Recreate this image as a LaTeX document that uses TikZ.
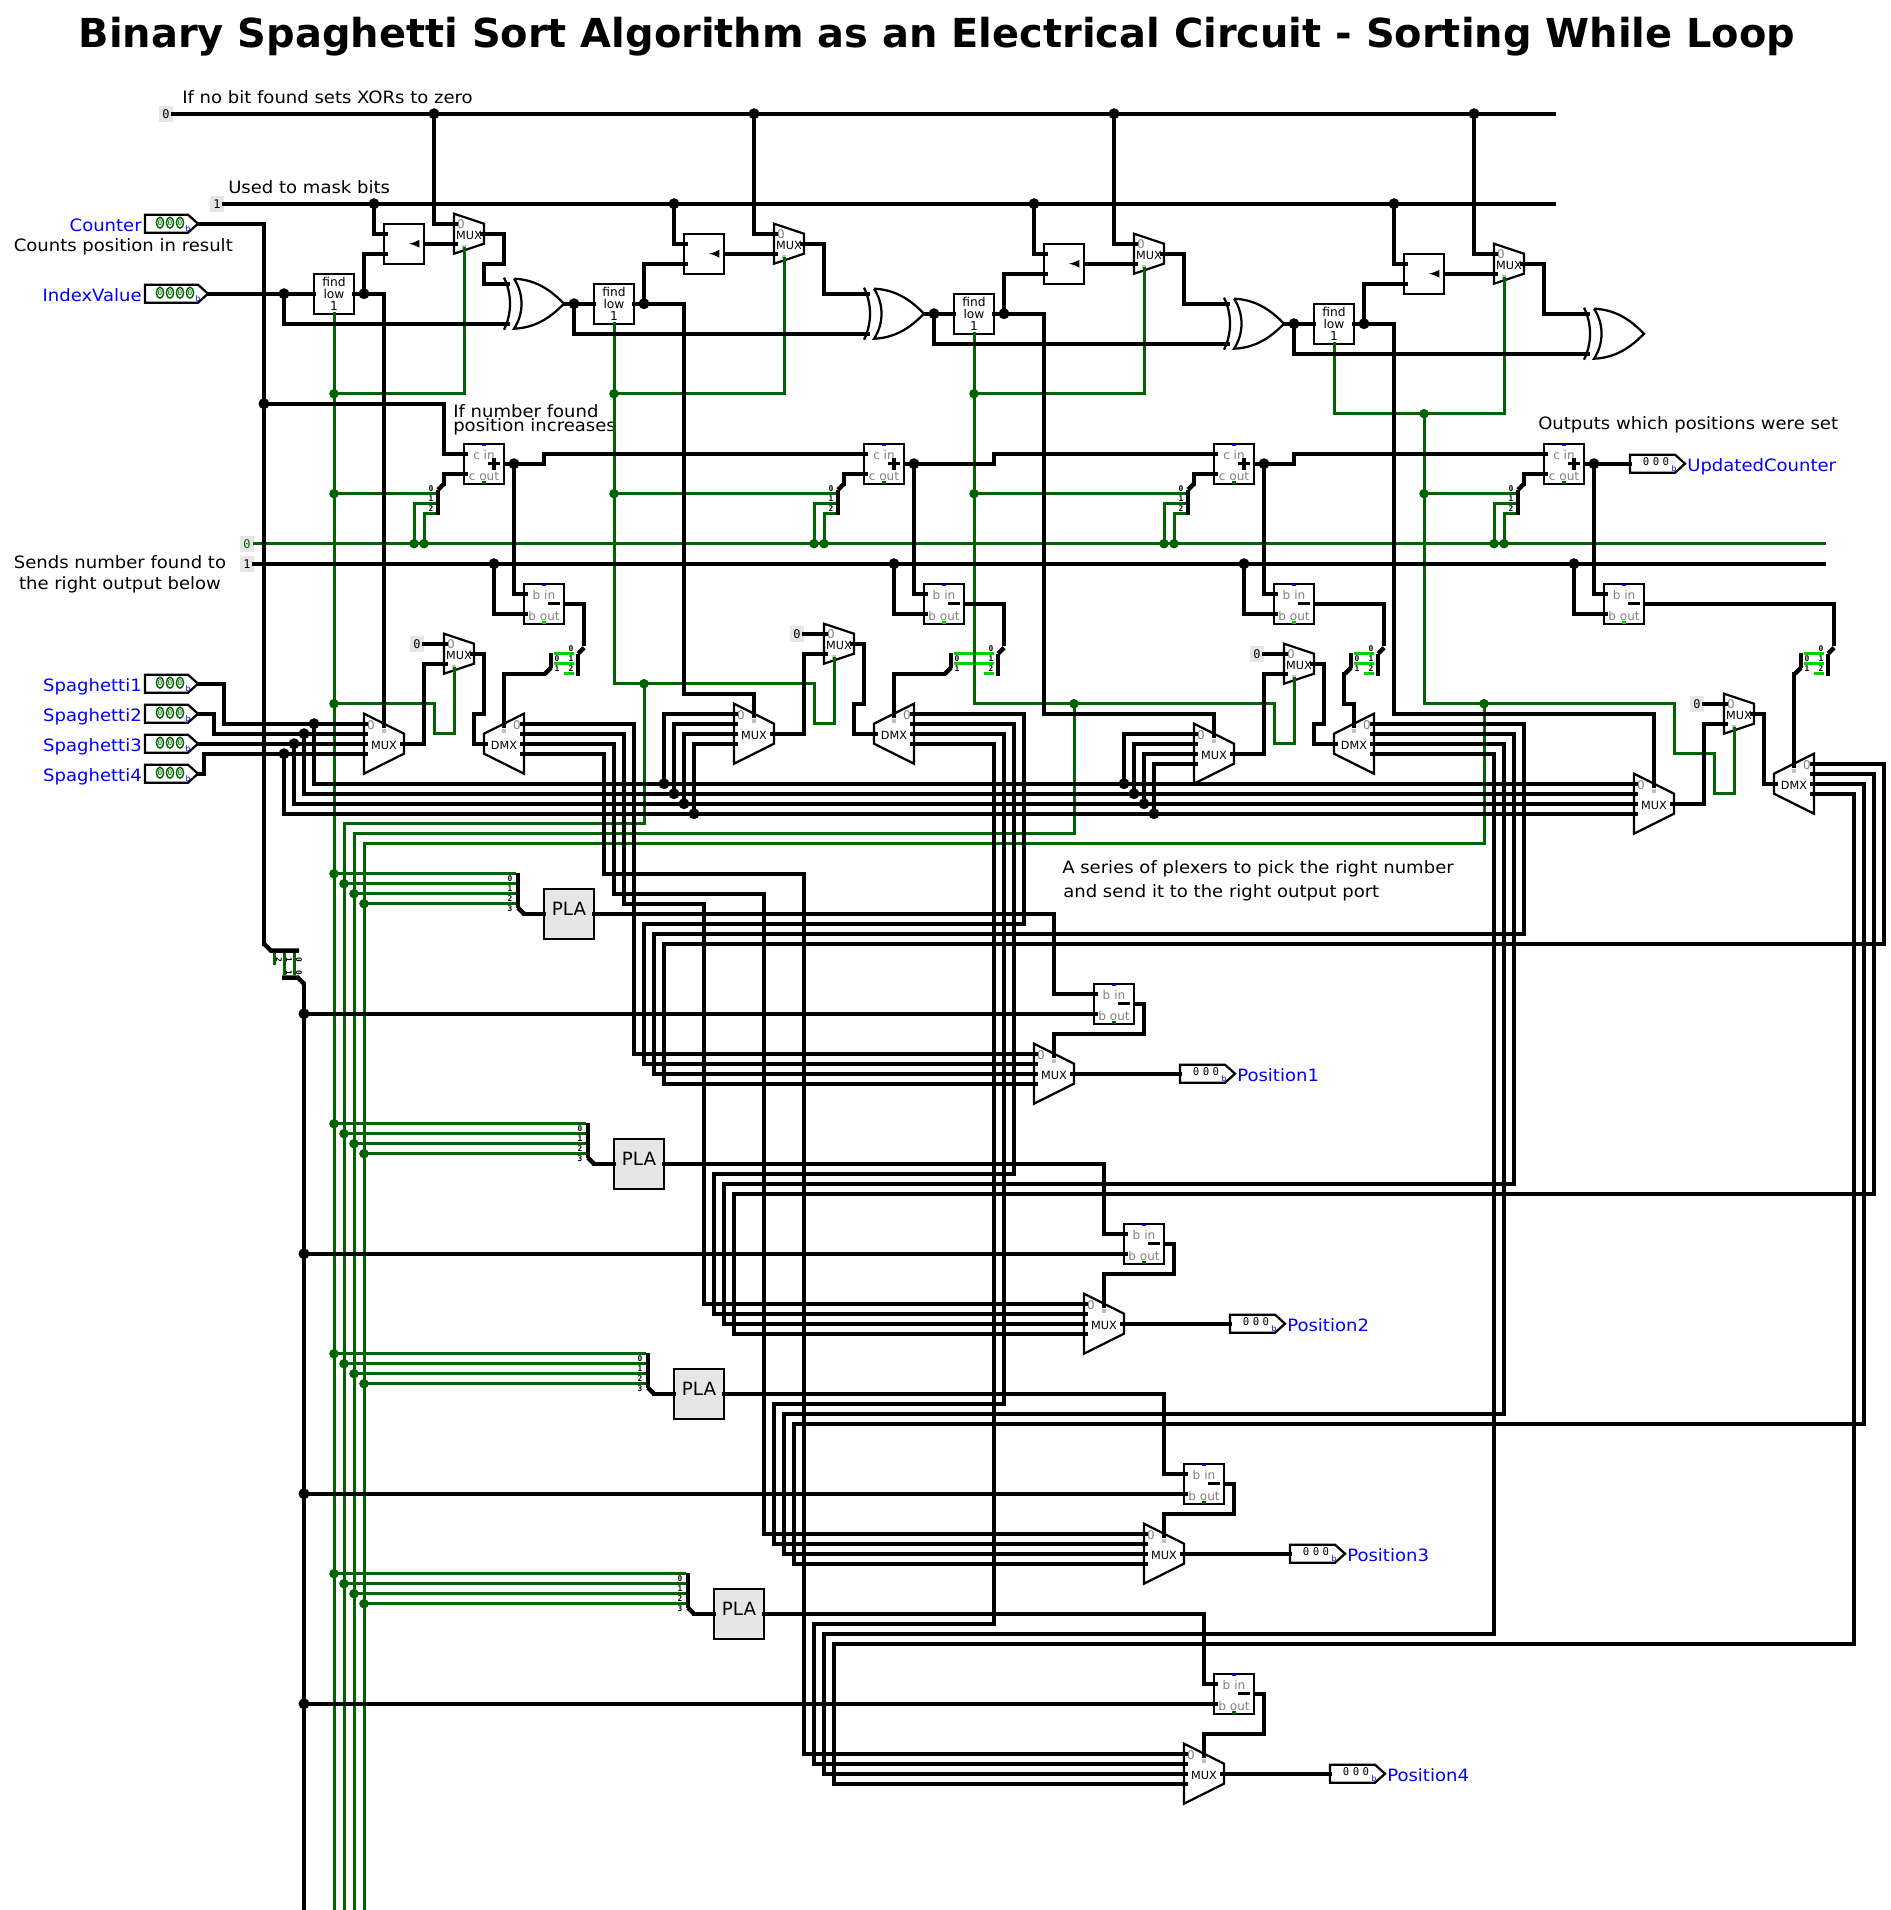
\documentclass[tikz,border=0pt]{standalone}
\usepackage{fontspec}
\setmainfont{DejaVu Sans}
\setmonofont{DejaVu Sans Mono}
\newfontfamily\widefont[FakeStretch=1.06]{DejaVu Sans}
\usepackage[rgb]{xcolor}
\usepackage{tikz}

\definecolor{wiregreen}{RGB}{0,100,0}
\definecolor{litgreen}{RGB}{0,210,0}
\definecolor{pinblue}{RGB}{0,0,255}
\definecolor{partgray}{RGB}{128,128,128}
\definecolor{markgray}{RGB}{192,192,192}
\definecolor{boxgray}{RGB}{230,230,230}

\tikzset{
  wire/.style={line width=2.85pt,black,line cap=rect},
  greenwire/.style={line width=2.13pt,wiregreen,line cap=rect},
  litwire/.style={line width=2.13pt,litgreen},
  bar/.style={line width=3.2pt,black},
  partline/.style={line width=1.6pt,black,line join=miter},
  ringline/.style={line width=1pt,wiregreen},
  partlabel/.style={inner sep=0,font=\fontsize{8}{9}\selectfont},
  partzero/.style={inner sep=0,text=partgray,font=\fontsize{8.5}{9}\selectfont},
  selmark/.style={inner sep=0,minimum size=3pt,fill=markgray},
  findbox/.style={draw,line width=1.6pt,fill=white,inner sep=0,outer sep=0,minimum size=1cm,align=center,font=\fontsize{8.7}{8.6}\selectfont},
  shiftbox/.style={draw,line width=1.6pt,fill=white,inner sep=0,outer sep=0,minimum size=1cm},
  arithbox/.style={draw,line width=1.6pt,fill=white,inner sep=0,outer sep=0,minimum size=1cm},
  arithtext/.style={inner sep=0,text=partgray,font=\fontsize{8.6}{9}\selectfont},
  plabox/.style={draw,line width=1.6pt,fill=boxgray,inner sep=0,outer sep=0,minimum size=1.25cm,font=\fontsize{13}{13}\selectfont},
  constpin/.style={fill=boxgray,inner sep=0,outer sep=0,minimum width=0.35cm,minimum height=0.4cm,font=\ttfamily\fontsize{8.5}{8.5}\selectfont},
  bitlabel/.style={inner sep=0,font=\ttfamily\bfseries\fontsize{5.6}{6}\selectfont},
  pinname/.style={inner sep=0,text=pinblue,font=\widefont\fontsize{12.1}{12.4}\selectfont,text height=1.5ex,text depth=.25ex},
  note/.style={inner sep=0,font=\widefont\fontsize{12.1}{12}\selectfont,text height=1.5ex,text depth=.25ex},
  blackdot/.style={circle,fill=black,inner sep=0,minimum size=7.8pt},
  greendot/.style={circle,fill=wiregreen,inner sep=0,minimum size=6.8pt},
}

%% big plexers: name, left x, middle y
\newcommand{\bigmux}[3]{
  \draw[partline,fill=white] (#2,#3-3) -- (#2+4,#3-1) -- (#2+4,#3+1) -- (#2,#3+3) -- cycle;
  \node[partlabel] (#1) at (#2+2,#3+.2) {MUX};
  \node[partzero] (#1-zero) at (#2+.7,#3-1.9) {0};
  \node[selmark] (#1-mark) at (#2+2,#3-1.3) {};
  \coordinate (#1-a) at (#2+.2,#3-2);
  \coordinate (#1-b) at (#2+.2,#3-1);
  \coordinate (#1-c) at (#2+.2,#3);
  \coordinate (#1-d) at (#2+.2,#3+1);
  \coordinate (#1-out) at (#2+3.8,#3);
  \coordinate (#1-sel) at (#2+2,#3-1.8);
}
\newcommand{\bigdmx}[3]{
  \draw[partline,fill=white] (#2+4,#3-3) -- (#2,#3-1) -- (#2,#3+1) -- (#2+4,#3+3) -- cycle;
  \node[partlabel] (#1) at (#2+2,#3+.2) {DMX};
  \node[partzero] (#1-zero) at (#2+3.3,#3-1.9) {0};
  \node[selmark] (#1-mark) at (#2+2,#3-1.3) {};
  \coordinate (#1-a) at (#2+3.8,#3-2);
  \coordinate (#1-b) at (#2+3.8,#3-1);
  \coordinate (#1-c) at (#2+3.8,#3);
  \coordinate (#1-d) at (#2+3.8,#3+1);
  \coordinate (#1-in) at (#2+.2,#3);
  \coordinate (#1-sel) at (#2+2,#3-1.8);
}
\newcommand{\smallmux}[3]{
  \draw[partline,fill=white] (#2,#3-2) -- (#2+3,#3-1) -- (#2+3,#3+1) -- (#2,#3+2) -- cycle;
  \node[partlabel] (#1) at (#2+1.5,#3+.2) {MUX};
  \node[partzero] (#1-zero) at (#2+.7,#3-1) {0};
  \node[selmark] (#1-mark) at (#2+1,#3+1.3) {};
  \coordinate (#1-a) at (#2+.2,#3-1);
  \coordinate (#1-b) at (#2+.2,#3+1);
  \coordinate (#1-out) at (#2+2.8,#3);
  \coordinate (#1-sel) at (#2+1,#3+1.5);
}
%% shift box: name, middle x, middle y
\newcommand{\shiftpart}[3]{
  \node[shiftbox] (#1) at (#2,#3) {};
  \draw[line width=1.5pt,-latex] (#2+1.5,#3) -- (#2+.5,#3);
  \coordinate (#1-a) at (#2-1.8,#3-1);
  \coordinate (#1-b) at (#2-1.8,#3+1);
  \coordinate (#1-out) at (#2+2.05,#3);
}
%% adder and subtractor: name, x, y, first text, second text, colour of lower dot
\newcommand{\arithpart}[6]{
  \node[arithbox] (#1) at (#2,#3) {};
  \node[arithtext] (#1-top) at (#2,#3-.9) {#4};
  \node[arithtext] (#1-bot) at (#2,#3+1.25) {#5};
  \fill[pinblue] (#2-.2,#3-2) rectangle (#2+.2,#3-1.75);
  \fill[#6] (#2-.2,#3+1.75) rectangle (#2+.2,#3+2);
  \coordinate (#1-a) at (#2-1.8,#3-1);
  \coordinate (#1-b) at (#2-1.8,#3+1);
  \coordinate (#1-out) at (#2+2.05,#3);
}
\newcommand{\adderpart}[3]{
  \arithpart{#1}{#2}{#3}{c in}{c out}{wiregreen}
  \draw[line width=2.4pt] (#2+.4,#3) -- (#2+1.6,#3);
  \draw[line width=2.4pt] (#2+1,#3-.6) -- (#2+1,#3+.6);
}
\newcommand{\subpart}[4]{
  \arithpart{#1}{#2}{#3}{b in}{b out}{#4}
  \draw[line width=2.4pt] (#2+.4,#3) -- (#2+1.6,#3);
}
%% xor gate: name, x of the nose, middle y
\newcommand{\xorpart}[3]{
  \draw[partline] (#2-6,#3-2.6) .. controls (#2-5.2,#3-1) and (#2-5.2,#3+1) .. (#2-6,#3+2.6);
  \draw[partline,fill=white] (#2-5,#3-2.5) .. controls (#2-2.5,#3-2.4) and (#2-1,#3-1) .. (#2,#3)
    .. controls (#2-1,#3+1) and (#2-2.5,#3+2.4) .. (#2-5,#3+2.5)
    .. controls (#2-4,#3+1) and (#2-4,#3-1) .. (#2-5,#3-2.5);
  \coordinate (#1-a) at (#2-5.6,#3-2);
  \coordinate (#1-b) at (#2-5.6,#3+2);
  \coordinate (#1-out) at (#2,#3);
}
%% pins: name, left x, y, label
\newcommand{\bitring}[2]{\draw[ringline] (#1,#2) ellipse (0.36 and 0.55);}
\newcommand{\pinthree}[4]{
  \draw[partline,fill=white] (#2,#3-.9) -- (#2+4.3,#3-.9) -- (#2+5.3,#3) -- (#2+4.3,#3+.9) -- (#2,#3+.9) -- cycle;
  \bitring{#2+1.5}{#3-.1} \bitring{#2+2.5}{#3-.1} \bitring{#2+3.5}{#3-.1}
  \node[inner sep=0,text=wiregreen,font=\ttfamily\fontsize{5.5}{6}\selectfont] (#1-bits) at (#2+2.5,#3-.1) {\makebox[7.11pt]{0}\makebox[7.11pt]{0}\makebox[7.11pt]{0}};
  \node[inner sep=0,text=pinblue,font=\fontsize{5.5}{6}\selectfont] (#1-base) at (#2+4.3,#3+.5) {b};
  \node[pinname,anchor=east] (#1-name) at (#2-.3,#3+.3) {#4};
  \coordinate (#1) at (#2+5.3,#3);
}
\newcommand{\pinfour}[4]{
  \draw[partline,fill=white] (#2,#3-.9) -- (#2+5.3,#3-.9) -- (#2+6.3,#3) -- (#2+5.3,#3+.9) -- (#2,#3+.9) -- cycle;
  \bitring{#2+1.5}{#3-.1} \bitring{#2+2.5}{#3-.1} \bitring{#2+3.5}{#3-.1} \bitring{#2+4.5}{#3-.1}
  \node[inner sep=0,text=wiregreen,font=\ttfamily\fontsize{5.5}{6}\selectfont] (#1-bits) at (#2+3,#3-.1) {\makebox[7.11pt]{0}\makebox[7.11pt]{0}\makebox[7.11pt]{0}\makebox[7.11pt]{0}};
  \node[inner sep=0,text=pinblue,font=\fontsize{5.5}{6}\selectfont] (#1-base) at (#2+5.3,#3+.5) {b};
  \node[pinname,anchor=east] (#1-name) at (#2-.3,#3+.3) {#4};
  \coordinate (#1) at (#2+6.3,#3);
}
\newcommand{\pinout}[4]{
  \draw[partline,fill=white] (#2,#3-.9) -- (#2+4.5,#3-.9) -- (#2+5.5,#3) -- (#2+4.5,#3+.9) -- (#2,#3+.9) -- cycle;
  \node[inner sep=0,font=\ttfamily\fontsize{7.6}{8}\selectfont] (#1-bits) at (#2+2.6,#3-.2) {\makebox[7pt]{0}\makebox[7pt]{0}\makebox[7pt]{0}};
  \node[inner sep=0,text=pinblue,font=\fontsize{5.5}{6}\selectfont] (#1-base) at (#2+4.4,#3+.5) {b};
  \node[pinname,anchor=west] (#1-name) at (#2+5.7,#3+.3) {#4};
  \coordinate (#1) at (#2,#3);
}
%% splitters
\newcommand{\splitthree}[3]{
  \draw[bar] (#2+.4,#3-.4) -- (#2+.4,#3+2.1);
  \draw[bar] (#2+.4,#3-.4) -- (#2+1,#3-1);
  \node[bitlabel] (#1-l0) at (#2-.3,#3-.5) {0};
  \node[bitlabel] (#1-l1) at (#2-.3,#3+.5) {1};
  \node[bitlabel] (#1-l2) at (#2-.3,#3+1.5) {2};
  \coordinate (#1-in) at (#2+1,#3-1);
  \coordinate (#1-a) at (#2,#3);
  \coordinate (#1-b) at (#2,#3+1);
  \coordinate (#1-c) at (#2,#3+2);
}
\newcommand{\splitfour}[3]{
  \draw[bar] (#2+.4,#3-.1) -- (#2+.4,#3+3.4);
  \draw[bar] (#2+.4,#3+3.4) -- (#2+1,#3+4);
  \node[bitlabel] (#1-l0) at (#2-.4,#3+.5) {0};
  \node[bitlabel] (#1-l1) at (#2-.4,#3+1.5) {1};
  \node[bitlabel] (#1-l2) at (#2-.4,#3+2.5) {2};
  \node[bitlabel] (#1-l3) at (#2-.4,#3+3.5) {3};
  \coordinate (#1-a) at (#2,#3);
  \coordinate (#1-b) at (#2,#3+1);
  \coordinate (#1-c) at (#2,#3+2);
  \coordinate (#1-d) at (#2,#3+3);
  \coordinate (#1-out) at (#2+1,#3+4);
}
\newcommand{\splitpair}[3]{
  \draw[litwire] (#2,65) -- (#3,65);
  \draw[litwire] (#2,66) -- (#3,66);
  \draw[litwire] (#3-1,67) -- (#3,67);
  \draw[bar] (#3+.4,65) -- (#3+.4,67.2);
  \draw[bar] (#3+.4,65) -- (#3+1,64.4);
  \draw[bar] (#2-.3,64.9) -- (#2-.3,66.4);
  \draw[bar] (#2-.3,66.4) -- (#2-.9,67);
  \node[bitlabel] (#1-l0) at (#3-.3,64.5) {0};
  \node[bitlabel] (#1-l1) at (#3-.3,65.5) {1};
  \node[bitlabel] (#1-l2) at (#3-.3,66.5) {2};
  \node[bitlabel] (#1-r0) at (#2+.3,65.5) {0};
  \node[bitlabel] (#1-r1) at (#2+.3,66.5) {1};
  \coordinate (#1-in) at (#3+1,64);
  \coordinate (#1-out) at (#2-1,67);
}

\begin{document}
\begin{tikzpicture}[x=0.25cm,y=-0.25cm]
\useasboundingbox (-0.4,-0.37) rectangle (188.6,190.63);

\node[inner sep=0,font=\bfseries\fontsize{28.4}{29}\selectfont] (title) at (93.3,3.25) {Binary Spaghetti Sort Algorithm as an Electrical Circuit - Sorting While Loop};

%% texts beside the wires
\path
(17.8,9.5) node[note,anchor=west] (notezero) {If no bit found sets XORs to zero}
(22.4,18.5) node[note,anchor=west] (notemask) {Used to mask bits}
(0.95,24.3) node[note,anchor=west] (notecount) {Counts position in result}
(44.9,40.9) node[note,anchor=west] (notefound) {If number found}
(44.9,42.3) node[note,anchor=west] (noteraise) {position increases}
(11.6,56) node[note] (notesendA) {Sends number found to}
(11.6,58.1) node[note] (notesendB) {the right output below}
(153.4,42.1) node[note,anchor=west] (noteset) {Outputs which positions were set}
(105.8,86.5) node[note,anchor=west] (noteplexA) {A series of plexers to pick the right number}
(105.9,88.9) node[note,anchor=west] (noteplexB) {and send it to the right output port};

%% pins
\pinthree{cntpin}{14.1}{22}{Counter}
\pinfour{idxpin}{14.1}{29}{IndexValue}
\pinthree{spapin}{14.1}{68}{Spaghetti1}
\pinthree{spbpin}{14.1}{71}{Spaghetti2}
\pinthree{spcpin}{14.1}{74}{Spaghetti3}
\pinthree{spdpin}{14.1}{77}{Spaghetti4}
\pinout{updpin}{162.6}{46}{UpdatedCounter}
\pinout{posapin}{117.6}{107}{Position1}
\pinout{posbpin}{122.6}{132}{Position2}
\pinout{poscpin}{128.6}{155}{Position3}
\pinout{posdpin}{132.6}{177}{Position4}

%% constants
\path
(16.9,11) node[constpin,anchor=east] (zeropin) {0}
(22,20) node[constpin,anchor=east] (onepin) {1}
(25,54) node[constpin,anchor=east,text=wiregreen] (gzeropin) {0}
(25,56) node[constpin,anchor=east] (bonepin) {1}
(42,64) node[constpin,anchor=east] (smazero) {0}
(80,63) node[constpin,anchor=east] (smbzero) {0}
(126,65) node[constpin,anchor=east] (smczero) {0}
(170,70) node[constpin,anchor=east] (smdzero) {0};
\coordinate (zeroend) at (155,11);
\coordinate (oneend) at (155,20);
\coordinate (gzeroend) at (182,54);
\coordinate (boneend) at (182,56);

%% the four rounds of the loop
\path
(33,29) node[findbox] (find1) {find\\low\\1}
(61,30) node[findbox] (find2) {find\\low\\1}
(97,31) node[findbox] (find3) {find\\low\\1}
(133,32) node[findbox] (find4) {find\\low\\1};
\shiftpart{sha}{40}{24}
\shiftpart{shb}{70}{25}
\shiftpart{shc}{106}{26}
\shiftpart{shd}{142}{27}
\smallmux{topa}{45}{23}
\smallmux{topb}{77}{24}
\smallmux{topc}{113}{25}
\smallmux{topd}{149}{26}
\xorpart{xora}{56}{30}
\xorpart{xorb}{92}{31}
\xorpart{xorc}{128}{32}
\xorpart{xord}{164}{33}
\adderpart{adda}{48}{46}
\adderpart{addb}{88}{46}
\adderpart{addc}{123}{46}
\adderpart{addd}{156}{46}
\subpart{suba}{54}{60}{litgreen}
\subpart{subb}{94}{60}{litgreen}
\subpart{subc}{129}{60}{litgreen}
\subpart{subd}{162}{60}{litgreen}
\splitthree{spla}{43}{49}
\splitthree{splb}{83}{49}
\splitthree{splc}{118}{49}
\splitthree{spld}{151}{49}
\splitpair{paira}{55}{57}
\splitpair{pairb}{95}{99}
\splitpair{pairc}{135}{137}
\splitpair{paird}{180}{182}
\bigmux{mma}{36}{74}
\bigmux{mmb}{73}{73}
\bigmux{mmc}{119}{75}
\bigmux{mmd}{163}{80}
\smallmux{sma}{44}{65}
\smallmux{smb}{82}{64}
\smallmux{smc}{128}{66}
\smallmux{smd}{172}{71}
\bigdmx{dma}{48}{74}
\bigdmx{dmb}{87}{73}
\bigdmx{dmc}{133}{74}
\bigdmx{dmd}{177}{78}

%% the four outputs
\path
(56.5,91) node[plabox] (plaa) {\raisebox{7pt}{PLA}}
(63.5,116) node[plabox] (plab) {\raisebox{7pt}{PLA}}
(69.5,139) node[plabox] (plac) {\raisebox{7pt}{PLA}}
(73.5,161) node[plabox] (plad) {\raisebox{7pt}{PLA}};
\splitfour{sqa}{51}{87}
\splitfour{sqb}{58}{112}
\splitfour{sqc}{64}{135}
\splitfour{sqd}{68}{157}
\subpart{posa}{111}{100}{wiregreen}
\subpart{posb}{114}{124}{wiregreen}
\subpart{posc}{120}{148}{wiregreen}
\subpart{posd}{123}{169}{wiregreen}
\bigmux{mpa}{103}{107}
\bigmux{mpb}{108}{132}
\bigmux{mpc}{114}{155}
\bigmux{mpd}{118}{177}

%% splitter under the counter
\draw[greenwire] (27,95) -- (27,96);
\draw[greenwire] (28,95) -- (28,97);
\draw[greenwire] (29,95) -- (29,97);
\draw[bar] (26,94) -- (26.7,94.7) -- (29.5,94.7);
\draw[bar] (27.8,97.4) -- (29.4,97.4) -- (30,98);
\path
(27.5,95.6) node[bitlabel,rotate=-90] (cntbit2) {2}
(28.5,95.6) node[bitlabel,rotate=-90] (cntbit1) {1}
(29.5,95.6) node[bitlabel,rotate=-90] (cntbit0) {0}
(28.5,96.9) node[bitlabel,rotate=-90] (lowbit1) {1}
(29.5,96.9) node[bitlabel,rotate=-90] (lowbit0) {0};
\coordinate (cntin) at (26,94);
\coordinate (cntout) at (30,98);

%% free ends at the foot of the page
\coordinate (footk) at (30,190.63);
\coordinate (foota) at (33,190.63);
\coordinate (footb) at (34,190.63);
\coordinate (footc) at (35,190.63);
\coordinate (footd) at (36,190.63);

%% green junctions
\path
(33,39) node[greendot] (gfa1) {} (33,49) node[greendot] (gfa2) {} (33,70) node[greendot] (gfa3) {}
(61,39) node[greendot] (gfb1) {} (61,49) node[greendot] (gfb2) {} (64,68) node[greendot] (gfb3) {}
(97,39) node[greendot] (gfc1) {} (97,49) node[greendot] (gfc2) {} (107,70) node[greendot] (gfc3) {}
(142,41) node[greendot] (gfd1) {} (142,49) node[greendot] (gfd2) {} (148,70) node[greendot] (gfd3) {}
(41,54) node[greendot] (gza1) {} (42,54) node[greendot] (gza2) {}
(81,54) node[greendot] (gzb1) {} (82,54) node[greendot] (gzb2) {}
(116,54) node[greendot] (gzc1) {} (117,54) node[greendot] (gzc2) {}
(149,54) node[greendot] (gzd1) {} (150,54) node[greendot] (gzd2) {}
(33,87) node[greendot] (qa1) {} (34,88) node[greendot] (qa2) {} (35,89) node[greendot] (qa3) {} (36,90) node[greendot] (qa4) {}
(33,112) node[greendot] (qb1) {} (34,113) node[greendot] (qb2) {} (35,114) node[greendot] (qb3) {} (36,115) node[greendot] (qb4) {}
(33,135) node[greendot] (qc1) {} (34,136) node[greendot] (qc2) {} (35,137) node[greendot] (qc3) {} (36,138) node[greendot] (qc4) {}
(33,157) node[greendot] (qd1) {} (34,158) node[greendot] (qd2) {} (35,159) node[greendot] (qd3) {} (36,160) node[greendot] (qd4) {};

%% black junctions
\path
(43,11) node[blackdot] (zta) {} (75,11) node[blackdot] (ztb) {} (111,11) node[blackdot] (ztc) {} (147,11) node[blackdot] (ztd) {}
(37,20) node[blackdot] (ota) {} (67,20) node[blackdot] (otb) {} (103,20) node[blackdot] (otc) {} (139,20) node[blackdot] (otd) {}
(28,29) node[blackdot] (xia) {} (57,30) node[blackdot] (xib) {} (93,31) node[blackdot] (xic) {} (129,32) node[blackdot] (xid) {}
(36,29) node[blackdot] (foa) {} (64,30) node[blackdot] (fob) {} (100,31) node[blackdot] (foc) {} (136,32) node[blackdot] (fod) {}
(26,40) node[blackdot] (cnt) {}
(51,46) node[blackdot] (ada) {} (91,46) node[blackdot] (adb) {} (126,46) node[blackdot] (adc) {} (159,46) node[blackdot] (add) {}
(49,56) node[blackdot] (sua) {} (89,56) node[blackdot] (sub) {} (124,56) node[blackdot] (suc) {} (157,56) node[blackdot] (sud) {}
(31,72) node[blackdot] (spa) {} (30,73) node[blackdot] (spb) {} (29,74) node[blackdot] (spc) {} (28,75) node[blackdot] (spd) {}
(66,78) node[blackdot] (baa) {} (67,79) node[blackdot] (bab) {} (68,80) node[blackdot] (bac) {} (69,81) node[blackdot] (bad) {}
(112,78) node[blackdot] (bba) {} (113,79) node[blackdot] (bbb) {} (114,80) node[blackdot] (bbc) {} (115,81) node[blackdot] (bbd) {}
(30,101) node[blackdot] (cba) {} (30,125) node[blackdot] (cbb) {} (30,149) node[blackdot] (cbc) {} (30,170) node[blackdot] (cbd) {};

%% green wires
\draw[greenwire] (gzeropin.east) -- (gzeroend);
\draw[greenwire] (find1.south) -- (foota);
\draw[greenwire] (gfa1) -| (topa-sel);
\draw[greenwire] (gfa2) -- (spla-a);
\draw[greenwire] (gza1) |- (spla-b);
\draw[greenwire] (gza2) |- (spla-c);
\draw[greenwire] (gfa3) -- (43,70) -- (43,73) -- (45,73) -- (sma-sel);

\draw[greenwire] (find2.south) -- (61,68) -- (81,68) -- (81,72) -- (83,72) -- (smb-sel);
\draw[greenwire] (gfb1) -| (topb-sel);
\draw[greenwire] (gfb2) -- (splb-a);
\draw[greenwire] (gzb1) |- (splb-b);
\draw[greenwire] (gzb2) |- (splb-c);
\draw[greenwire] (gfb3) -- (64,82) -- (34,82) -- (footb);

\draw[greenwire] (find3.south) -- (97,70) -- (127,70) -- (127,74) -- (129,74) -- (smc-sel);
\draw[greenwire] (gfc1) -| (topc-sel);
\draw[greenwire] (gfc2) -- (splc-a);
\draw[greenwire] (gzc1) |- (splc-b);
\draw[greenwire] (gzc2) |- (splc-c);
\draw[greenwire] (gfc3) -- (107,83) -- (35,83) -- (footc);

\draw[greenwire] (find4.south) |- (gfd1);
\draw[greenwire] (gfd1) -| (topd-sel);
\draw[greenwire] (gfd1) -- (142,70) -- (167,70) -- (167,75) -- (171,75) -- (171,79) -- (173,79) -- (smd-sel);
\draw[greenwire] (gfd2) -- (spld-a);
\draw[greenwire] (gzd1) |- (spld-b);
\draw[greenwire] (gzd2) |- (spld-c);
\draw[greenwire] (gfd3) -- (148,84) -- (36,84) -- (footd);

\draw[greenwire] (qa1) -- (sqa-a);
\draw[greenwire] (qa2) -- (sqa-b);
\draw[greenwire] (qa3) -- (sqa-c);
\draw[greenwire] (qa4) -- (sqa-d);
\draw[greenwire] (qb1) -- (sqb-a);
\draw[greenwire] (qb2) -- (sqb-b);
\draw[greenwire] (qb3) -- (sqb-c);
\draw[greenwire] (qb4) -- (sqb-d);
\draw[greenwire] (qc1) -- (sqc-a);
\draw[greenwire] (qc2) -- (sqc-b);
\draw[greenwire] (qc3) -- (sqc-c);
\draw[greenwire] (qc4) -- (sqc-d);
\draw[greenwire] (qd1) -- (sqd-a);
\draw[greenwire] (qd2) -- (sqd-b);
\draw[greenwire] (qd3) -- (sqd-c);
\draw[greenwire] (qd4) -- (sqd-d);

%% constant lines
\draw[wire] (zeropin.east) -- (zeroend);
\draw[wire] (onepin.east) -- (oneend);
\draw[wire] (bonepin.east) -- (boneend);
\draw[wire] (smazero.east) -- (sma-a);
\draw[wire] (smbzero.east) -- (smb-a);
\draw[wire] (smczero.east) -- (smc-a);
\draw[wire] (smdzero.east) -- (smd-a);

%% top row
\draw[wire] (zta) |- (topa-a);
\draw[wire] (ztb) |- (topb-a);
\draw[wire] (ztc) |- (topc-a);
\draw[wire] (ztd) |- (topd-a);
\draw[wire] (ota) |- (sha-a);
\draw[wire] (otb) |- (shb-a);
\draw[wire] (otc) |- (shc-a);
\draw[wire] (otd) |- (shd-a);
\draw[wire] (foa) |- (sha-b);
\draw[wire] (fob) |- (shb-b);
\draw[wire] (foc) |- (shc-b);
\draw[wire] (fod) |- (shd-b);
\draw[wire] (sha-out) -- (topa-b);
\draw[wire] (shb-out) -- (topb-b);
\draw[wire] (shc-out) -- (topc-b);
\draw[wire] (shd-out) -- (topd-b);
\draw[wire] (idxpin) -- (find1.west);
\draw[wire] (find1.east) -- (foa);
\draw[wire] (find2.east) -- (fob);
\draw[wire] (find3.east) -- (foc);
\draw[wire] (find4.east) -- (fod);
\draw[wire] (xia) |- (xora-b);
\draw[wire] (xib) |- (xorb-b);
\draw[wire] (xic) |- (xorc-b);
\draw[wire] (xid) |- (xord-b);
\draw[wire] (topa-out) -- (50,23) -- (50,26) -- (48,26) -- (48,28) -- (xora-a);
\draw[wire] (topb-out) -- (82,24) -- (82,29) -- (xorb-a);
\draw[wire] (topc-out) -- (118,25) -- (118,30) -- (xorc-a);
\draw[wire] (topd-out) -- (154,26) -- (154,31) -- (xord-a);
\draw[wire] (xora-out) -- (xib) -- (find2.west);
\draw[wire] (xorb-out) -- (xic) -- (find3.west);
\draw[wire] (xorc-out) -- (xid) -- (find4.west);

%% lines down to the big plexers
\draw[wire] (foa) -| (mma-sel);
\draw[wire] (fob) -- (68,30) -- (68,69) -- (75,69) -- (mmb-sel);
\draw[wire] (foc) -- (104,31) -- (104,71) -- (121,71) -- (mmc-sel);
\draw[wire] (fod) -- (139,32) -- (139,71) -- (165,71) -- (mmd-sel);

%% counter and adders
\draw[wire] (cntpin) -- (26,22) -- (cnt) -- (cntin);
\draw[wire] (cnt) -- (44,40) -- (44,45) -- (adda-a);
\draw[wire] (adda-out) -- (ada) -- (54,46) -- (54,45) -- (addb-a);
\draw[wire] (addb-out) -- (adb) -- (99,46) -- (99,45) -- (addc-a);
\draw[wire] (addc-out) -- (adc) -- (129,46) -- (129,45) -- (addd-a);
\draw[wire] (addd-out) -- (add) -- (updpin);
\draw[wire] (adda-b) -| (spla-in);
\draw[wire] (addb-b) -| (splb-in);
\draw[wire] (addc-b) -| (splc-in);
\draw[wire] (addd-b) -| (spld-in);

%% subtractors
\draw[wire] (ada) |- (suba-a);
\draw[wire] (adb) |- (subb-a);
\draw[wire] (adc) |- (subc-a);
\draw[wire] (add) |- (subd-a);
\draw[wire] (sua) |- (suba-b);
\draw[wire] (sub) |- (subb-b);
\draw[wire] (suc) |- (subc-b);
\draw[wire] (sud) |- (subd-b);
\draw[wire] (suba-out) -| (paira-in);
\draw[wire] (subb-out) -| (pairb-in);
\draw[wire] (subc-out) -| (pairc-in);
\draw[wire] (subd-out) -| (paird-in);
\draw[wire] (paira-out) -| (dma-sel);
\draw[wire] (pairb-out) -| (dmb-sel);
\draw[wire] (pairc-out) -- (134,70) -- (135,70) -- (dmc-sel);
\draw[wire] (paird-out) -- (dmd-sel);

%% inputs and number bus
\draw[wire] (spapin) -- (22,68) -- (22,72) -- (spa) -- (mma-a);
\draw[wire] (spbpin) -- (21,71) -- (21,73) -- (spb) -- (mma-b);
\draw[wire] (spcpin) -- (spc) -- (mma-c);
\draw[wire] (spdpin) -- (20,77) -- (20,75) -- (spd) -- (mma-d);
\draw[wire] (spa) |- (mmd-a);
\draw[wire] (spb) |- (mmd-b);
\draw[wire] (spc) |- (mmd-c);
\draw[wire] (spd) |- (mmd-d);
\draw[wire] (baa) |- (mmb-a);
\draw[wire] (bab) |- (mmb-b);
\draw[wire] (bac) |- (mmb-c);
\draw[wire] (bad) |- (mmb-d);
\draw[wire] (bba) |- (mmc-a);
\draw[wire] (bbb) |- (mmc-b);
\draw[wire] (bbc) |- (mmc-c);
\draw[wire] (bbd) |- (mmc-d);

%% plexer chain
\draw[wire] (mma-out) -- (42,74) -- (42,66) -- (sma-b);
\draw[wire] (mmb-out) -- (80,73) -- (80,65) -- (smb-b);
\draw[wire] (mmc-out) -- (126,75) -- (126,67) -- (smc-b);
\draw[wire] (mmd-out) -- (170,80) -- (170,72) -- (smd-b);
\draw[wire] (sma-out) -- (48,65) -- (48,71) -- (47,71) -- (47,74) -- (dma-in);
\draw[wire] (smb-out) -- (86,64) -- (86,70) -- (85,70) -- (85,73) -- (dmb-in);
\draw[wire] (smc-out) -- (132,66) -- (132,72) -- (131,72) -- (131,74) -- (dmc-in);
\draw[wire] (smd-out) -- (176,71) -- (176,78) -- (dmd-in);

%% from the demuxes to the output plexers
\draw[wire] (dma-a) -- (63,72) -- (63,105) -- (mpa-a);
\draw[wire] (dma-b) -- (62,73) -- (62,90) -- (70,90) -- (70,130) -- (mpb-a);
\draw[wire] (dma-c) -- (61,74) -- (61,89) -- (76,89) -- (76,153) -- (mpc-a);
\draw[wire] (dma-d) -- (60,75) -- (60,87) -- (80,87) -- (80,175) -- (mpd-a);
\draw[wire] (dmb-a) -- (102,71) -- (102,92) -- (64,92) -- (64,106) -- (mpa-b);
\draw[wire] (dmb-b) -- (101,72) -- (101,117) -- (71,117) -- (71,131) -- (mpb-b);
\draw[wire] (dmb-c) -- (100,73) -- (100,140) -- (77,140) -- (77,154) -- (mpc-b);
\draw[wire] (dmb-d) -- (99,74) -- (99,162) -- (81,162) -- (81,176) -- (mpd-b);
\draw[wire] (dmc-a) -- (152,72) -- (152,93) -- (65,93) -- (65,107) -- (mpa-c);
\draw[wire] (dmc-b) -- (151,73) -- (151,118) -- (72,118) -- (72,132) -- (mpb-c);
\draw[wire] (dmc-c) -- (150,74) -- (150,141) -- (78,141) -- (78,155) -- (mpc-c);
\draw[wire] (dmc-d) -- (149,75) -- (149,163) -- (82,163) -- (82,177) -- (mpd-c);
\draw[wire] (dmd-a) -- (188,76) -- (188,94) -- (66,94) -- (66,108) -- (mpa-d);
\draw[wire] (dmd-b) -- (187,77) -- (187,119) -- (73,119) -- (73,133) -- (mpb-d);
\draw[wire] (dmd-c) -- (186,78) -- (186,142) -- (79,142) -- (79,156) -- (mpc-d);
\draw[wire] (dmd-d) -- (185,79) -- (185,164) -- (83,164) -- (83,178) -- (mpd-d);

%% pla and output stage
\draw[wire] (sqa-out) -- (plaa.west);
\draw[wire] (sqb-out) -- (plab.west);
\draw[wire] (sqc-out) -- (plac.west);
\draw[wire] (sqd-out) -- (plad.west);
\draw[wire] (plaa.east) -- (105,91) -- (105,99) -- (posa-a);
\draw[wire] (plab.east) -- (110,116) -- (110,123) -- (posb-a);
\draw[wire] (plac.east) -- (116,139) -- (116,147) -- (posc-a);
\draw[wire] (plad.east) -- (120,161) -- (120,168) -- (posd-a);
\draw[wire] (cntout) -- (footk);
\draw[wire] (cba) -- (posa-b);
\draw[wire] (cbb) -- (posb-b);
\draw[wire] (cbc) -- (posc-b);
\draw[wire] (cbd) -- (posd-b);
\draw[wire] (posa-out) -- (114,100) -- (114,103) -- (105,103) -- (mpa-sel);
\draw[wire] (posb-out) -- (117,124) -- (117,127) -- (110,127) -- (mpb-sel);
\draw[wire] (posc-out) -- (123,148) -- (123,151) -- (116,151) -- (mpc-sel);
\draw[wire] (posd-out) -- (126,169) -- (126,173) -- (120,173) -- (mpd-sel);
\draw[wire] (mpa-out) -- (posapin);
\draw[wire] (mpb-out) -- (posbpin);
\draw[wire] (mpc-out) -- (poscpin);
\draw[wire] (mpd-out) -- (posdpin);

\end{tikzpicture}
\end{document}
